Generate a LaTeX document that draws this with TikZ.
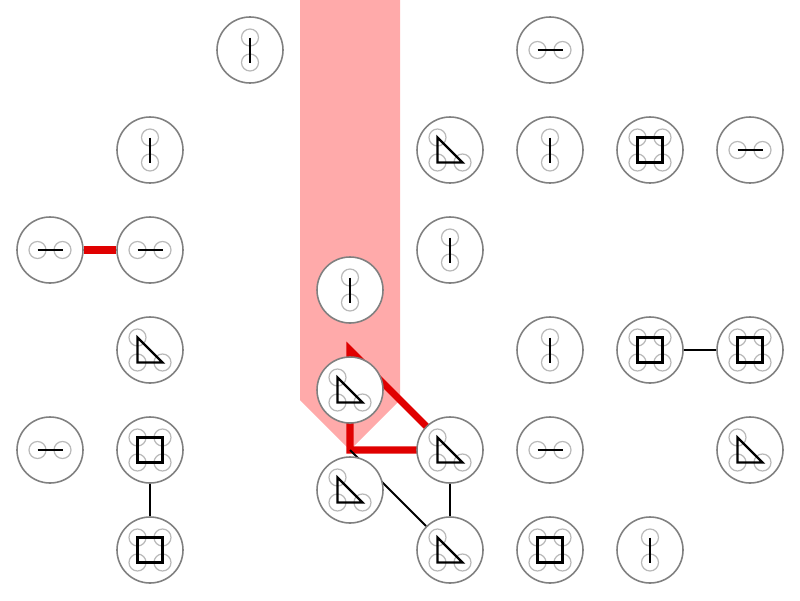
\documentclass[tikz,border=0pt]{standalone}
\usepackage{tikz}
\usetikzlibrary{backgrounds}
\definecolor{zone}{HTML}{FFAAAA}
\definecolor{bond}{HTML}{E00000}

\begin{document}
\begin{tikzpicture}[
    site/.style={circle, draw=gray, line width=0.45pt, fill=white,
                 minimum size=0.66cm, inner sep=0pt},
    atom/.style={draw=gray!55, line width=0.35pt},
    link/.style={line width=0.65pt},
    pics/dimerh/.style={code={
        \draw[atom] (-0.125,0) circle (0.085) (0.125,0) circle (0.085);
        \draw[link] (-0.125,0) -- (0.125,0);}},
    pics/dimerv/.style={code={
        \draw[atom] (0,0.125) circle (0.085) (0,-0.125) circle (0.085);
        \draw[link] (0,0.125) -- (0,-0.125);}},
    pics/trimer/.style={code={
        \draw[atom] (-0.125,0.125) circle (0.085) (-0.125,-0.125) circle (0.085)
                    (0.125,-0.125) circle (0.085);
        \draw[link] (-0.125,0.125) -- (-0.125,-0.125) -- (0.125,-0.125) -- cycle;}},
    pics/tetramer/.style={code={
        \foreach \dx/\dy in {-1/1, 1/1, -1/-1, 1/-1}
            \draw[atom] (0.125*\dx,0.125*\dy) circle (0.085);
        \draw[link] (-0.125,-0.125) rectangle (0.125,0.125);}}
]
\useasboundingbox (0,0) rectangle (8,-6);

% sites and their molecules
\foreach \name/\x/\y/\kind in {
    v1/2.5/-0.5/dimerv, h1/5.5/-0.5/dimerh,
    v2/1.5/-1.5/dimerv, t1/4.5/-1.5/trimer, v3/5.5/-1.5/dimerv,
    q1/6.5/-1.5/tetramer, h2/7.5/-1.5/dimerh,
    h3/0.5/-2.5/dimerh, h4/1.5/-2.5/dimerh, v4/4.5/-2.5/dimerv,
    v5/3.5/-2.9/dimerv,
    t2/1.5/-3.5/trimer, v6/5.5/-3.5/dimerv, q2/6.5/-3.5/tetramer,
    q3/7.5/-3.5/tetramer,
    t3/3.5/-3.9/trimer,
    h5/0.5/-4.5/dimerh, q4/1.5/-4.5/tetramer, t4/4.5/-4.5/trimer,
    h6/5.5/-4.5/dimerh, t5/7.5/-4.5/trimer,
    t6/3.5/-4.9/trimer,
    q5/1.5/-5.5/tetramer, t7/4.5/-5.5/trimer, q6/5.5/-5.5/tetramer,
    v7/6.5/-5.5/dimerv}
{
    \node[site] (\name) at (\x,\y) {};
    \pic at (\name) {\kind};
}

\begin{scope}[on background layer]
    \fill[zone] (3,0) -- (4,0) -- (4,-4) -- (3.5,-4.5) -- (3,-4) -- cycle;
    \coordinate (apex) at (3.5,-3.5);
    \coordinate (foot) at (3.5,-4.5);
    \draw[bond, line width=2pt] (apex) -- (t4.center) -- (foot) -- cycle;
    \draw[bond, line width=2pt] (h3) -- (h4);
    \draw[line width=0.6pt] (foot) -- (t7);
    \draw[line width=0.7pt] (t4) -- (t7);
    \draw[line width=0.7pt] (q4) -- (q5);
    \draw[line width=0.7pt] (q2) -- (q3);
\end{scope}
\end{tikzpicture}
\end{document}
